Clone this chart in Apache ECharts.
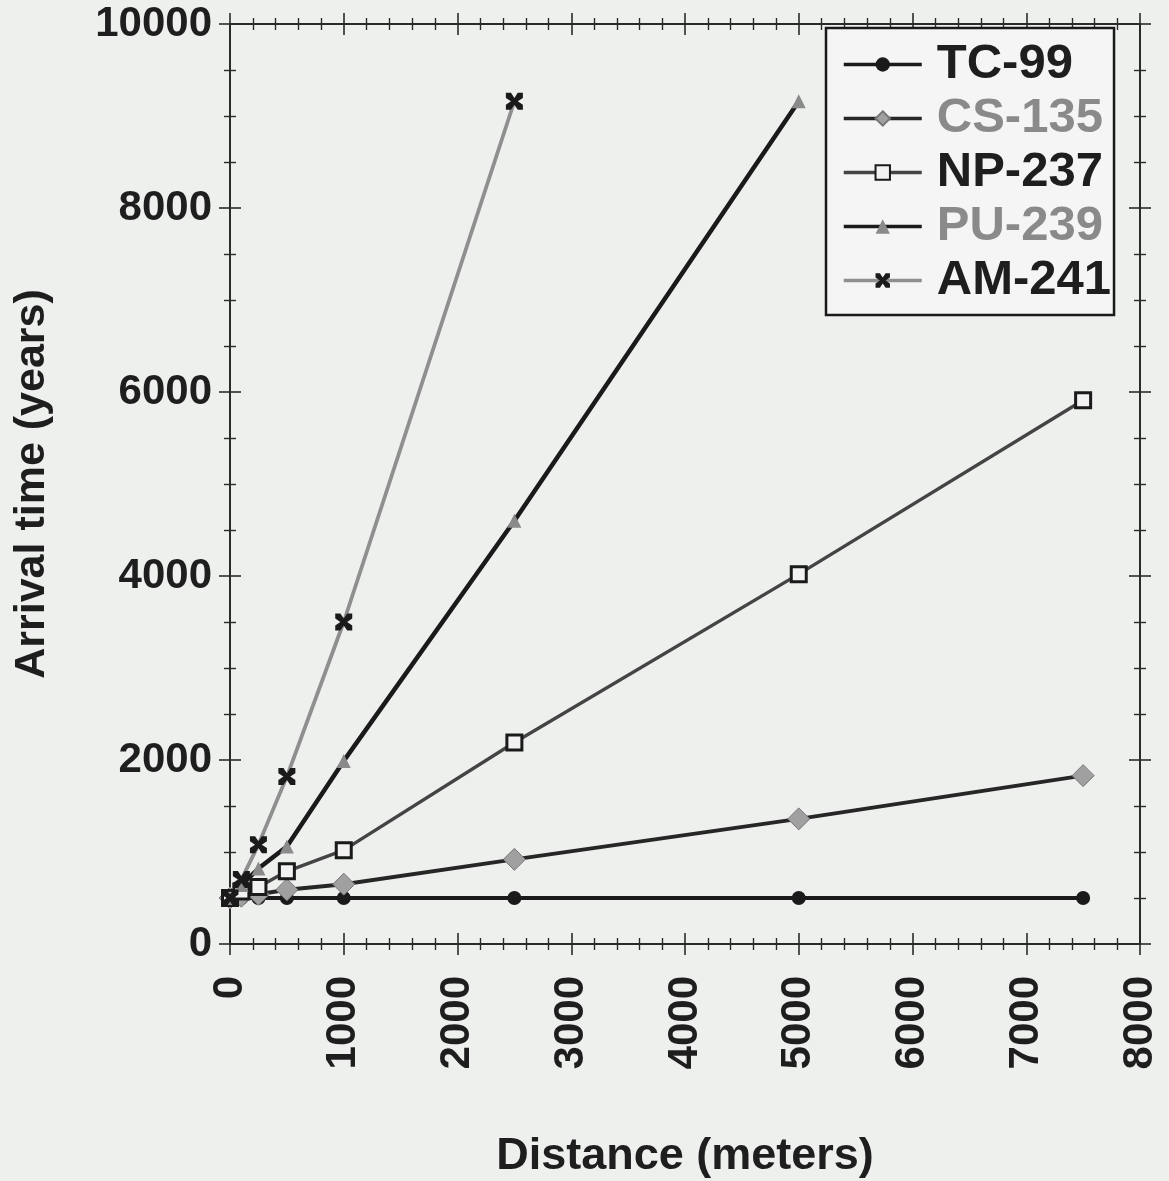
<!DOCTYPE html>
<html><head><meta charset="utf-8">
<script src="https://cdn.jsdelivr.net/npm/echarts@6/dist/echarts.min.js"></script>
<style>html,body{margin:0;padding:0;background:#eef0ee;}#c{width:1169px;height:1181px;}</style>
</head><body><div id="c"></div>
<script>
const distances = [0, 100, 250, 500, 1000, 2500, 5000, 7500];
const tc99  = [500, 500, 500, 500, 500, 500, 500, 500];
const cs135 = [500, 520, 540, 590, 650, 920, 1360, 1830];
const np237 = [500, 570, 620, 790, 1020, 2190, 4020, 5910];
const pu239 = [500, 640, 820, 1060, 1990, 4600, 9160];
const am241 = [500, 700, 1080, 1820, 3500, 9160];
const seriesNames = ['TC-99', 'CS-135', 'NP-237', 'PU-239', 'AM-241'];
const xTicks = [0, 1000, 2000, 3000, 4000, 5000, 6000, 7000, 8000];
const yTicks = [0, 2000, 4000, 6000, 8000, 10000];

const pair = (ys) => ys.map((y, i) => [distances[i], y]);
const FONT = '"Liberation Sans", Arial, sans-serif';
const AX = '#2a2a2a';
const plain = (v) => String(v);

function xAx(pos, inside, labels) {
  return {
    type: 'value', position: pos, min: 0, max: 8000, interval: 1000,
    axisLine: {show: true, onZero: false, lineStyle: {color: AX, width: 1.8}},
    axisTick: {show: true, inside: inside, length: 11, lineStyle: {color: AX, width: 1.6}},
    minorTick: {show: true, splitNumber: 5, length: 6, lineStyle: {color: AX, width: 1.4}},
    splitLine: {show: false},
    axisLabel: labels ? {show: true, rotate: 90, margin: 32, formatter: plain, fontFamily: FONT, fontWeight: 'bold', fontSize: 42, color: '#1e1e1e'} : {show: false},
    name: labels ? 'Distance (meters)' : '',
    nameLocation: 'middle', nameGap: 190,
    nameTextStyle: {fontFamily: FONT, fontWeight: 'bold', fontSize: 45, color: '#1e1e1e'}
  };
}
function yAx(pos, inside, labels) {
  return {
    type: 'value', position: pos, min: 0, max: 10000, interval: 2000,
    axisLine: {show: true, onZero: false, lineStyle: {color: AX, width: 1.8}},
    axisTick: {show: true, inside: inside, length: 11, lineStyle: {color: AX, width: 1.6}},
    minorTick: {show: true, splitNumber: 4, length: 6, lineStyle: {color: AX, width: 1.4}},
    splitLine: {show: false},
    axisLabel: labels ? {show: true, margin: 18, formatter: plain, fontFamily: FONT, fontWeight: 'bold', fontSize: 42, color: '#1e1e1e'} : {show: false},
    name: labels ? 'Arrival time (years)' : '',
    nameLocation: 'middle', nameGap: 176, nameRotate: 90,
    nameTextStyle: {fontFamily: FONT, fontWeight: 'bold', fontSize: 43, color: '#1e1e1e'}
  };
}

const xPath = 'path://M0,0 L3,0 L5,3 L7,0 L10,0 L10,3 L7,5 L10,7 L10,10 L7,10 L5,7 L3,10 L0,10 L0,7 L3,5 L0,3 Z';

const chart = echarts.init(document.getElementById('c'));
chart.setOption({
  backgroundColor: '#eef0ee',
  animation: false,
  grid: {left: 230, right: 29, top: 24, bottom: 237, containLabel: false, outerBoundsMode: 'none'},
  xAxis: [xAx('bottom', false, true), xAx('bottom', true, false), xAx('top', false, false), xAx('top', true, false)],
  yAxis: [yAx('left', false, true), yAx('left', true, false), yAx('right', false, false), yAx('right', true, false)],
  legend: {
    orient: 'vertical', left: 826, top: 28,
    backgroundColor: '#f4f5f4', borderColor: '#1a1a1a', borderWidth: 2.5, borderRadius: 0,
    padding: [12, 3, 10, 16], itemGap: 5, itemWidth: 78, itemHeight: 18,
    lineStyle: {width: 3.5},
    textStyle: {fontFamily: FONT, fontWeight: 'bold', fontSize: 49, lineHeight: 47, padding: [0, 0, 0, 10], color: '#1e1e1e'},
    data: [
      {name: 'TC-99'},
      {name: 'CS-135', textStyle: {color: '#8a8a8a'}},
      {name: 'NP-237'},
      {name: 'PU-239', textStyle: {color: '#8a8a8a'}},
      {name: 'AM-241'}
    ]
  },
  series: [
    {name: seriesNames[0], type: 'line', data: pair(tc99), symbol: 'circle', symbolSize: 14,
     lineStyle: {color: '#1a1a1a', width: 4}, itemStyle: {color: '#1a1a1a'}},
    {name: seriesNames[1], type: 'line', data: pair(cs135), symbol: 'diamond', symbolSize: 22,
     lineStyle: {color: '#262626', width: 4}, itemStyle: {color: '#a0a0a0', borderColor: '#777', borderWidth: 1}},
    {name: seriesNames[2], type: 'line', data: pair(np237), symbol: 'rect', symbolSize: 15,
     lineStyle: {color: '#444', width: 3.4}, itemStyle: {color: '#f2f2f2', borderColor: '#1a1a1a', borderWidth: 3}},
    {name: seriesNames[3], type: 'line', data: pair(pu239), symbol: 'triangle', symbolSize: 14,
     lineStyle: {color: '#1a1a1a', width: 4.5}, itemStyle: {color: '#8a8a8a'}},
    {name: seriesNames[4], type: 'line', data: pair(am241), symbol: xPath, symbolSize: 17,
     lineStyle: {color: '#8f8f8f', width: 3.8}, itemStyle: {color: '#1a1a1a'}}
  ]
});
</script>
</body></html>
